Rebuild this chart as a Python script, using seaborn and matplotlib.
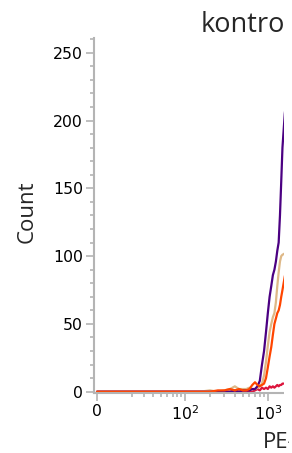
import matplotlib
matplotlib.use("Agg")
import pandas as pd
import matplotlib.pyplot as plt
import seaborn as sns
from matplotlib.patches import Rectangle
from matplotlib.ticker import FixedLocator, FixedFormatter

sns.set_style("ticks")
plt.rcParams['font.family'] = ['Open Sans', 'DejaVu Sans']
plt.rcParams['mathtext.fontset'] = 'dejavusans'

# PE channel values (bin positions) and counts per sample
pe_values = [0, 25, 50, 75, 100, 150, 200, 250, 300, 350, 400, 450, 500, 550, 600,
             650, 700, 750, 800, 850, 900, 950, 1000, 1050, 1100, 1150, 1200, 1250,
             1300, 1350, 1400, 1450, 1500, 1600, 1750, 2000, 2300]
counts_purple = [0, 0, 0, 0, 0, 0, 0, 0, 0, 0, 1, 0, 1, 1, 1,
                 2, 2, 4, 8, 20, 30, 44, 58, 70, 78, 86, 90, 96,
                 104, 110, 130, 155, 180, 205, 225, 235, 230]
counts_tan = [0, 0, 0, 0, 0, 0, 1, 0, 1, 2, 4, 2, 2, 2, 3,
              2, 2, 3, 4, 6, 12, 22, 34, 44, 50, 55, 58, 66,
              78, 88, 96, 100, 101, 102, 98, 90, 80]
counts_orange = [0, 0, 0, 0, 0, 0, 0, 1, 1, 2, 1, 2, 1, 1, 2,
                 5, 7, 5, 4, 5, 6, 10, 18, 26, 33, 42, 50, 54,
                 58, 60, 64, 70, 75, 85, 95, 110, 120]
counts_crimson = [0, 0, 0, 0, 0, 0, 0, 0, 0, 0, 0, 0, 0, 0, 0,
                  0, 1, 2, 1, 3, 2, 3, 2, 4, 3, 4, 3, 4,
                  5, 4, 5, 5, 6, 6, 7, 8, 9]

samples = ['crimson', 'tan', 'purple', 'orange']
colors = ['#dc143c', '#deb887', '#4b0082', '#ff4500']
series = [counts_crimson, counts_tan, counts_purple, counts_orange]

df = pd.concat([pd.DataFrame({'PE': pe_values, 'Count': s, 'sample': name})
                for name, s in zip(samples, series)], ignore_index=True)

major_ticks = [0, 100, 1000, 10000, 100000]
major_labels = ['0', '$10^2$', '$10^3$', '$10^4$', '$10^5$']
minor_ticks = [20, 30, 40, 50, 60, 70, 80, 90] + \
    [m * d for d in (100, 1000, 10000, 100000) for m in range(2, 10)]

fig = plt.figure(figsize=(2.92, 4.53), dpi=100)
ax = fig.add_axes([94 / 292, 59.9 / 453, 374.6 / 292, 355.3 / 453])

sns.lineplot(data=df, x='PE', y='Count', hue='sample', hue_order=samples,
             palette=colors, sort=False, legend=False, linewidth=1.6, ax=ax)

ax.set_xscale('asinh', linear_width=17.5)
ax.set_xlim(-1.46, 262144)
ax.set_ylim(-1, 261)

ax.xaxis.set_major_locator(FixedLocator(major_ticks))
ax.xaxis.set_major_formatter(FixedFormatter(major_labels))
ax.xaxis.set_minor_locator(FixedLocator(minor_ticks))
ax.set_yticks(range(0, 251, 50))
ax.set_yticks(range(0, 261, 10), minor=True)

gray = '#b4b4b4'
for side in ['top', 'right']:
    ax.spines[side].set_visible(False)
for side in ['left', 'bottom']:
    ax.spines[side].set_color(gray)
    ax.spines[side].set_linewidth(1.5)
ax.tick_params(which='major', length=6, width=1.2, color=gray, labelsize=11.3,
               labelcolor='black', pad=2)
ax.tick_params(which='minor', length=3, width=1.2, color=gray)
for lab in ax.get_xticklabels() + ax.get_yticklabels():
    lab.set_fontfamily('DejaVu Sans')
ax.set_xlabel('')
ax.set_ylabel('')

fig.text(201 / 292, 1 - 31.5 / 453, 'kontrola', ha='left', va='baseline', fontsize=19.5)
fig.text(27.5 / 292, 1 - 212 / 453, 'Count', ha='center', va='center',
         rotation=90, fontsize=16)

# the view is cut off on the right
fig.add_artist(Rectangle((283.5 / 292, 0), 20 / 292, 1, transform=fig.transFigure,
                         facecolor='white', edgecolor='none', zorder=10))
fig.text(263 / 292, 1 - 448 / 453, 'PE-A', ha='left', va='baseline', fontsize=16,
         zorder=11)
fig.add_artist(Rectangle((288.5 / 292, 0), 10 / 292, 22 / 453, transform=fig.transFigure,
                         facecolor='white', edgecolor='none', zorder=12))

fig.savefig('out.png', dpi=100)
